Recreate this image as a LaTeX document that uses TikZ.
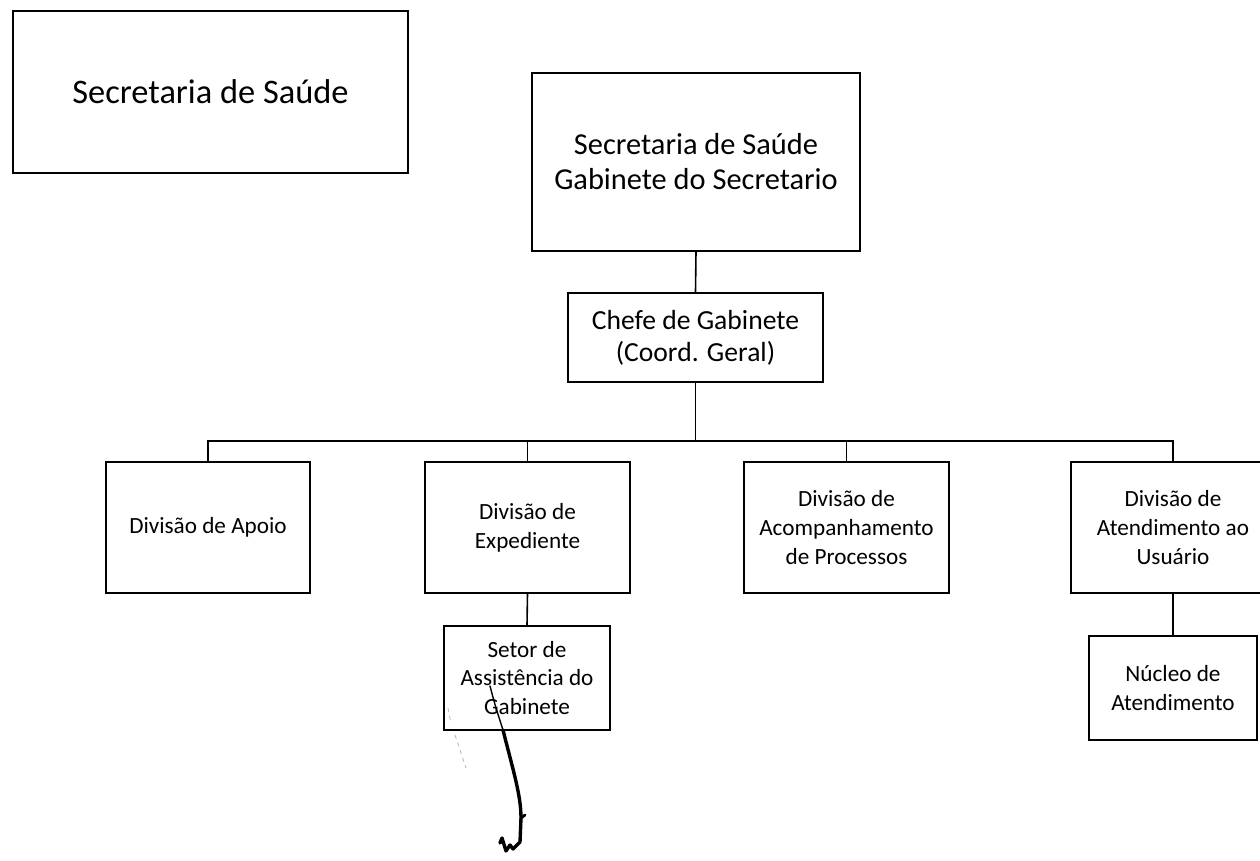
\documentclass[tikz,border=0pt]{standalone}
\usepackage{fontspec}
\setmainfont{Carlito}
\begin{document}
\begin{tikzpicture}[x=0.5pt,y=-0.5pt,
  box/.style={draw=black,line width=0.8pt,rectangle,inner sep=0pt,align=center,
    font=\fontsize{11.6}{14.5}\selectfont},
  link/.style={draw=black,line width=0.8pt},
  ink/.style={draw=black,line cap=round,line join=round}]
\useasboundingbox (0,0) rectangle (1260,861);
\clip (0,0) rectangle (1260,861);
\fill[white] (0,0) rectangle (1260,861);

\node[box,minimum width=197.5pt,minimum height=81pt,font=\fontsize{17.2}{20}\selectfont] (title) at (210.5,92) {Secretaria de Saúde};

\node[box,minimum width=164pt,minimum height=89pt,font=\fontsize{15.2}{17.5}\selectfont] (gab) at (696,162) {Secretaria de Saúde\\Gabinete do Secretario};

\node[box,minimum width=127.5pt,minimum height=44.5pt,font=\fontsize{13.8}{16}\selectfont] (chefe) at (695.5,337.5) {Chefe de Gabinete\\(Coord. Geral)};

\node[box,minimum width=102pt,minimum height=65.5pt] (apoio) at (208,527.5) {Divisão de Apoio};
\node[box,minimum width=102.5pt,minimum height=65.5pt] (exped) at (527.5,527.5) {Divisão de\\Expediente};
\node[box,minimum width=102.5pt,minimum height=65.5pt] (acomp) at (846.5,527.5) {Divisão de\\Acompanhamento\\de Processos};
\node[box,minimum width=102pt,minimum height=65.5pt] (atend) at (1173,527.5) {Divisão de\\Atendimento ao\\Usuário};

\node[box,minimum width=83pt,minimum height=52pt,font=\fontsize{11.6}{14.3}\selectfont] (setor) at (527,678) {Setor de\\Assistência do\\Gabinete};
\node[box,minimum width=84pt,minimum height=52pt,font=\fontsize{11.6}{14.3}\selectfont] (nucleo) at (1173,688) {Núcleo de\\Atendimento};

\coordinate (bus) at (695,441);

\draw[link] (gab.south) -- (chefe.north);
\draw[link] (chefe.south) -- (chefe.south |- bus);
\draw[link] (apoio.north) -- (apoio.north |- bus) -- (atend.north |- bus) -- (atend.north);
\draw[link] (exped.north) -- (exped.north |- bus);
\draw[link] (acomp.north) -- (acomp.north |- bus);
\draw[link] (exped.south) -- (setor.north);
\draw[link] (atend.south) -- (nucleo.north);

% handwritten mark
\draw[ink,line width=0.7pt] (490,686) .. controls (495,705) .. (503,730);
\draw[ink,line width=1.7pt] (503,730) .. controls (513,770) and (521,795) .. (521,818);
\draw[ink,line width=1.4pt] (521,818) -- (525,815);
\draw[ink,line width=1.7pt] (521,818) -- (520,842) -- (513,849) -- (510,845) -- (506,851) -- (502,838) -- (500,843);
% faint pencil trace
\draw[gray!55,line width=0.4pt,dash pattern=on 2pt off 2pt] (448,708) -- (451,724);
\draw[gray!55,line width=0.4pt,dash pattern=on 2pt off 2pt] (455,735) -- (466,768);
\end{tikzpicture}
\end{document}
